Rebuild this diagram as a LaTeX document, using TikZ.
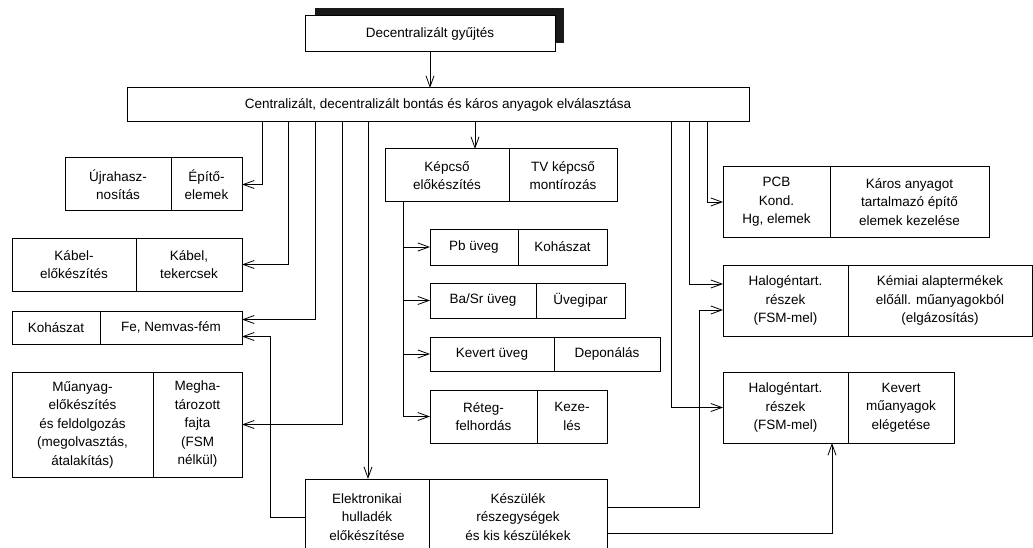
\documentclass[tikz,border=0pt]{standalone}
\usepackage{fontspec}
\setmainfont{Liberation Sans}
\usetikzlibrary{arrows.meta,positioning}
\tikzset{
  cellbox/.style={
    rectangle,
    draw=black,
    line width=1pt,
    fill=white,
    align=center,
    inner sep=0pt,
    outer sep=0pt,
    font=\fontsize{13.5}{18.5}\selectfont
  },
  flowarrow/.style={-{Straight Barb[length=11pt,width=8pt]}, line width=0.8pt, draw=black}
}
\begin{document}
\begin{tikzpicture}[x=1pt, y=-1pt]
\useasboundingbox (0,0) rectangle (1033,548);
\fill[white] (0,0) rectangle (1033,548);
% top and main bar
\fill[black!90] (315,8) rectangle (564,43);
\node[cellbox, anchor=north west, minimum width=250pt, minimum height=36pt] (gyujtes) at (305,16) {Decentralizált gyűjtés};
\node[cellbox, anchor=north west, minimum width=622pt, minimum height=34pt] (bontas) at (127,88) {Centralizált, decentralizált bontás és káros anyagok elválasztása};
% left column
\node[cellbox, anchor=north west, minimum width=106pt, minimum height=53pt] (ujra) at (65,158) {Újrahasz-\\nosítás};
\node[cellbox, right=0pt of ujra, minimum width=71pt, minimum height=53pt] (epito) {Építő-\\elemek};
\node[cellbox, anchor=north west, minimum width=124pt, minimum height=53pt] (kabelelo) at (12,238) {Kábel-\\előkészítés};
\node[cellbox, right=0pt of kabelelo, minimum width=106pt, minimum height=53pt] (kabel) {Kábel,\\tekercsek};
\node[cellbox, anchor=north west, minimum width=88pt, minimum height=33pt] (kohaszat) at (12,311) {Kohászat};
\node[cellbox, right=0pt of kohaszat, minimum width=142pt, minimum height=33pt] (femek) {Fe, Nemvas-fém};
\node[cellbox, anchor=north west, minimum width=141pt, minimum height=105pt] (muanyag) at (12,372) {Műanyag-\\előkészítés\\és feldolgozás\\(megolvasztás,\\átalakítás)};
\node[cellbox, right=0pt of muanyag, minimum width=89pt, minimum height=105pt] (meghat) {Megha-\\tározott\\fajta\\(FSM\\nélkül)};
% middle column
\node[cellbox, anchor=north west, minimum width=124pt, minimum height=53pt] (kepcso) at (385,149) {Képcső\\előkészítés};
\node[cellbox, right=0pt of kepcso, minimum width=108pt, minimum height=53pt] (tvmont) {TV képcső\\montírozás};
\node[cellbox, anchor=north west, minimum width=88pt, minimum height=36pt] (pbuveg) at (430,229) {Pb üveg};
\node[cellbox, right=0pt of pbuveg, minimum width=89pt, minimum height=36pt] (pbkoh) {Kohászat};
\node[cellbox, anchor=north west, minimum width=106pt, minimum height=35pt] (basr) at (430,283) {Ba/Sr üveg};
\node[cellbox, right=0pt of basr, minimum width=89pt, minimum height=35pt] (uvegipar) {Üvegipar};
\node[cellbox, anchor=north west, minimum width=124pt, minimum height=34pt] (kevert) at (430,337) {Kevert üveg};
\node[cellbox, right=0pt of kevert, minimum width=106pt, minimum height=34pt] (deponalas) {Deponálás};
\node[cellbox, anchor=north west, minimum width=107pt, minimum height=53pt] (reteg) at (430,390) {Réteg-\\felhordás};
\node[cellbox, right=0pt of reteg, minimum width=70pt, minimum height=53pt] (kezeles) {Keze-\\lés};
\node[cellbox, anchor=north west, minimum width=124pt, minimum height=76pt] (elektr) at (305,479) {Elektronikai\\hulladék\\előkészítése};
\node[cellbox, right=0pt of elektr, minimum width=178pt, minimum height=76pt] (keszulek) {Készülék\\részegységek\\és kis készülékek};
% right column
\node[cellbox, anchor=north west, minimum width=107pt, minimum height=70pt] (pcb) at (723,167) {PCB\\Kond.\\Hg, elemek};
\node[cellbox, right=0pt of pcb, minimum width=159pt, minimum height=70pt] (karos) {Káros anyagot\\tartalmazó építő\\elemek kezelése};
\node[cellbox, anchor=north west, minimum width=125pt, minimum height=71pt] (halogenA) at (723,265) {Halogéntart.\\részek\\(FSM-mel)};
\node[cellbox, right=0pt of halogenA, minimum width=184pt, minimum height=71pt] (kemiai) {Kémiai alaptermékek\\előáll. műanyagokból\\(elgázosítás)};
\node[cellbox, anchor=north west, minimum width=125pt, minimum height=71pt] (halogenB) at (723,372) {Halogéntart.\\részek\\(FSM-mel)};
\node[cellbox, right=0pt of halogenB, minimum width=106pt, minimum height=71pt] (egetes) {Kevert\\műanyagok\\elégetése};
% connectors
\draw[flowarrow] (gyujtes.south) -- (bontas.north -| gyujtes.south);
\draw[flowarrow] ([xshift=135pt]bontas.south west) |- (epito.east);
\draw[flowarrow] ([xshift=161pt]bontas.south west) |- (kabel.east);
\draw[flowarrow] ([xshift=188pt]bontas.south west) |- ([yshift=8pt]femek.east);
\draw[flowarrow] ([xshift=215pt]bontas.south west) |- (meghat.east);
\draw[flowarrow] ([xshift=241pt]bontas.south west) -- ([xshift=241pt]bontas.south west |- elektr.north);
\draw[flowarrow] ([xshift=348pt]bontas.south west) -- ([xshift=348pt]bontas.south west |- kepcso.north);
\draw[flowarrow] ([xshift=544pt]bontas.south west) |- (halogenB.west);
\draw[flowarrow] ([xshift=562pt]bontas.south west) |- ([yshift=16.5pt]halogenA.west);
\draw[flowarrow] ([xshift=580pt]bontas.south west) |- (pcb.west);
\draw[flowarrow] ([xshift=18pt]kepcso.south west) |- (pbuveg.west);
\draw[flowarrow] ([xshift=18pt]kepcso.south west) |- (basr.west);
\draw[flowarrow] ([xshift=18pt]kepcso.south west) |- (kevert.west);
\draw[flowarrow] ([xshift=18pt]kepcso.south west) |- (reteg.west);
\draw[flowarrow] (elektr.west) -| ([xshift=28pt,yshift=-9pt]femek.east) -- ([yshift=-9pt]femek.east);
\draw[flowarrow] ([yshift=10pt]keszulek.east) -| ([xshift=-24pt,yshift=-9.5pt]halogenA.west) -- ([yshift=-9.5pt]halogenA.west);
\draw[flowarrow] ([yshift=-16pt]keszulek.east) -| ([xshift=46.5pt]halogenB.south);
\end{tikzpicture}
\end{document}
